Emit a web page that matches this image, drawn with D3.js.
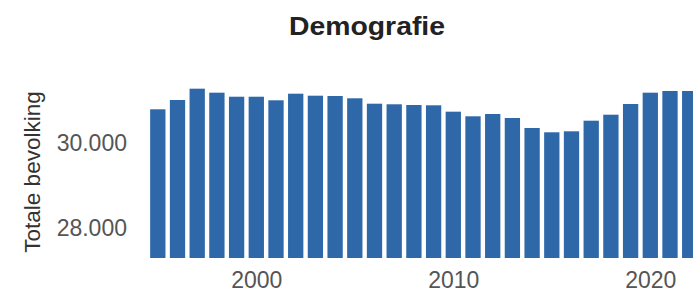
<!DOCTYPE html>
<html>
<head>
<meta charset="utf-8">
<script src="https://cdn.jsdelivr.net/npm/d3@7"></script>
<style>
  html, body { margin: 0; padding: 0; background: #fff; overflow: hidden; }
  svg { display: block; font-family: "Liberation Sans", Arial, sans-serif; }
</style>
</head>
<body>
<svg id="chart" width="693" height="292"></svg>
<script>
const years = [1995,1996,1997,1998,1999,2000,2001,2002,2003,2004,2005,2006,2007,2008,2009,
               2010,2011,2012,2013,2014,2015,2016,2017,2018,2019,2020,2021,2022];
const population = [30800,31019,31285,31191,31096,31096,31012,31167,31120,31113,31059,30932,30918,30901,30894,
                    30744,30635,30689,30595,30360,30259,30282,30532,30673,30925,31191,31231,31231];
const yTicks = [28000, 30000];
const xTicks = [2000, 2010, 2020];
const title = "Demografie";
const yTitle = "Totale bevolking";

const svg = d3.select("#chart");
const locale = d3.formatLocale({decimal: ",", thousands: ".", grouping: [3], currency: ["€", ""]});
const fmt = locale.format(",d");

const step = 19.7;
const x = d3.scaleLinear().domain([1995, 2022]).range([157.8, 157.8 + 27 * step]);
const barW = 15.3;
const y = d3.scaleLinear().domain([28000, 30000]).range([228.3, 143.3]);
const y0 = 258;

svg.append("g").selectAll("rect").data(years).join("rect")
  .attr("x", d => x(d) - barW / 2)
  .attr("width", barW)
  .attr("y", (d, i) => y(population[i]))
  .attr("height", (d, i) => y0 - y(population[i]))
  .attr("fill", "#2e68a9");

const yAxis = svg.append("g").attr("transform", "translate(127,0)")
  .call(d3.axisLeft(y).tickValues(yTicks).tickFormat(fmt).tickSize(0).tickPadding(0));
yAxis.select(".domain").remove();
yAxis.selectAll("text").attr("font-size", 23).attr("fill", "#555").attr("font-family", "Liberation Sans, Arial, sans-serif");

const xAxis = svg.append("g").attr("transform", "translate(0,266.5)")
  .call(d3.axisBottom(x).tickValues(xTicks).tickFormat(d3.format("d")).tickSize(0).tickPadding(0));
xAxis.select(".domain").remove();
xAxis.selectAll("text").attr("font-size", 23).attr("fill", "#555").attr("dy", "0.95em").attr("font-family", "Liberation Sans, Arial, sans-serif");

svg.append("text")
  .attr("x", 367).attr("y", 35.3)
  .attr("text-anchor", "middle")
  .attr("font-size", 26).attr("font-weight", "bold").attr("fill", "#222")
  .attr("textLength", 156).attr("lengthAdjust", "spacingAndGlyphs")
  .text(title);

svg.append("text")
  .attr("transform", "translate(40,172) rotate(-90)")
  .attr("text-anchor", "middle")
  .attr("font-size", 22.5).attr("fill", "#333")
  .text(yTitle);
</script>
</body>
</html>
